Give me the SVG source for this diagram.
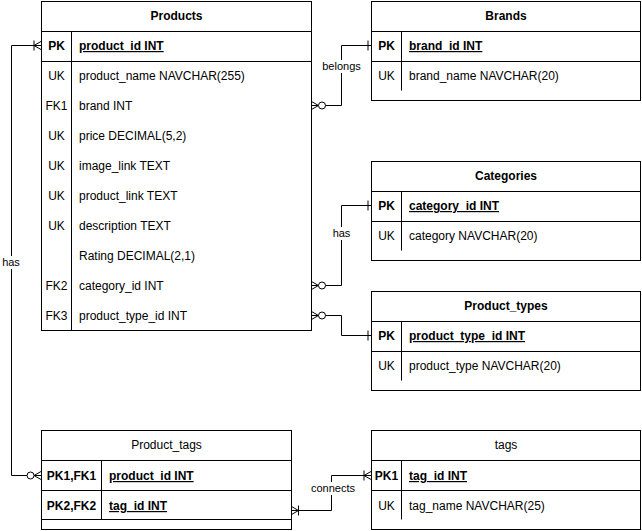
<svg xmlns="http://www.w3.org/2000/svg" width="642" height="531" viewBox="0 0 642 531">
<style>
  .box{fill:#fff;stroke:#000;stroke-width:1}
  .ln{fill:none;stroke:#000;stroke-width:1}
  text{font-family:"Liberation Sans",Arial,Helvetica,sans-serif;font-size:12px;fill:#000}
  .title{font-weight:bold;text-anchor:middle}
  .title2{text-anchor:middle}
  .key{text-anchor:middle}
  .pk{font-weight:bold}
  .pkname{font-weight:bold;text-decoration:underline}
  .lbl{font-size:11px;text-anchor:middle}
  .lblbg{fill:#fff;stroke:none}
</style>
<defs>
  <g id="zeroMany">
    <path class="ln" d="M0,-4 L7,0 L0,4 M0,0 L7,0"/>
    <circle cx="10.5" cy="0" r="3.5" fill="#fff" stroke="#000" stroke-width="1"/>
  </g>
  <g id="oneMany">
    <path class="ln" d="M0,-4 L7,0 L0,4 M0,0 L7,0 M7,-5 L7,5"/>
  </g>
  <g id="one">
    <path class="ln" d="M3,-5 L3,5"/>
  </g>
</defs>

<g id="connectors">
  <path class="ln" d="M325,105.5 H341.5 V45.5 H371"/>
  <use href="#zeroMany" transform="translate(311.5,105.5)"/>
  <use href="#one" transform="translate(371,45.5) scale(-1,1)"/>
  <rect class="lblbg" x="322" y="60" width="39" height="13"/>
  <text class="lbl" x="341.5" y="70">belongs</text>

  <path class="ln" d="M325,285.5 H341.5 V205.5 H371"/>
  <use href="#zeroMany" transform="translate(311.5,285.5)"/>
  <use href="#one" transform="translate(371,205.5) scale(-1,1)"/>
  <rect class="lblbg" x="331" y="227" width="21" height="13"/>
  <text class="lbl" x="341.5" y="237">has</text>

  <path class="ln" d="M325,315.5 H341.5 V335.5 H371"/>
  <use href="#zeroMany" transform="translate(311.5,315.5)"/>
  <use href="#one" transform="translate(371,335.5) scale(-1,1)"/>

  <path class="ln" d="M34,45.5 H11.5 V475.5 H27"/>
  <use href="#oneMany" transform="translate(41,45.5) scale(-1,1)"/>
  <use href="#zeroMany" transform="translate(41,475.5) scale(-1,1)"/>
  <rect class="lblbg" x="1" y="256" width="21" height="13"/>
  <text class="lbl" x="11" y="266">has</text>

  <path class="ln" d="M298,510.5 H331.5 V475.5 H364"/>
  <use href="#oneMany" transform="translate(291.5,510.5)"/>
  <use href="#oneMany" transform="translate(371,475.5) scale(-1,1)"/>
  <rect class="lblbg" x="311" y="482" width="45" height="13"/>
  <text class="lbl" x="333" y="492">connects</text>
</g>

<g id="Products">
  <rect class="box" x="41.5" y="1.5" width="270" height="329"/>
  <path class="ln" d="M41.5,31.5 H311.5 M41.5,61.5 H311.5 M71.5,31.5 V330.5"/>
  <text class="title" x="176.5" y="20">Products</text>
  <text class="key pk" x="56.5" y="50">PK</text>
  <text class="pkname" x="79" y="50">product_id INT</text>
  <text class="key" x="56.5" y="80">UK</text>
  <text x="79" y="80">product_name NAVCHAR(255)</text>
  <text class="key" x="56.5" y="110">FK1</text>
  <text x="79" y="110">brand INT</text>
  <text class="key" x="56.5" y="140">UK</text>
  <text x="79" y="140">price DECIMAL(5,2)</text>
  <text class="key" x="56.5" y="170">UK</text>
  <text x="79" y="170">image_link TEXT</text>
  <text class="key" x="56.5" y="200">UK</text>
  <text x="79" y="200">product_link TEXT</text>
  <text class="key" x="56.5" y="230">UK</text>
  <text x="79" y="230">description TEXT</text>
  <text x="79" y="260">Rating DECIMAL(2,1)</text>
  <text class="key" x="56.5" y="290">FK2</text>
  <text x="79" y="290">category_id INT</text>
  <text class="key" x="56.5" y="320">FK3</text>
  <text x="79" y="320">product_type_id INT</text>
</g>

<g id="Brands">
  <rect class="box" x="371.5" y="1.5" width="269" height="99"/>
  <path class="ln" d="M371.5,31.5 H640.5 M371.5,61.5 H640.5 M401.5,31.5 V90.5"/>
  <text class="title" x="506" y="20">Brands</text>
  <text class="key pk" x="386.5" y="50">PK</text>
  <text class="pkname" x="409" y="50">brand_id INT</text>
  <text class="key" x="386.5" y="80">UK</text>
  <text x="409" y="80">brand_name NAVCHAR(20)</text>
</g>

<g id="Categories">
  <rect class="box" x="371.5" y="161.5" width="269" height="99"/>
  <path class="ln" d="M371.5,191.5 H640.5 M371.5,221.5 H640.5 M401.5,191.5 V250.5"/>
  <text class="title" x="506" y="180">Categories</text>
  <text class="key pk" x="386.5" y="210">PK</text>
  <text class="pkname" x="409" y="210">category_id INT</text>
  <text class="key" x="386.5" y="240">UK</text>
  <text x="409" y="240">category NAVCHAR(20)</text>
</g>

<g id="Product_types">
  <rect class="box" x="371.5" y="291.5" width="269" height="99"/>
  <path class="ln" d="M371.5,321.5 H640.5 M371.5,351.5 H640.5 M401.5,321.5 V380.5"/>
  <text class="title" x="506" y="310">Product_types</text>
  <text class="key pk" x="386.5" y="340">PK</text>
  <text class="pkname" x="409" y="340">product_type_id INT</text>
  <text class="key" x="386.5" y="370">UK</text>
  <text x="409" y="370">product_type NAVCHAR(20)</text>
</g>

<g id="Product_tags">
  <rect class="box" x="41.5" y="430.5" width="250" height="99"/>
  <path class="ln" d="M41.5,460.5 H291.5 M41.5,490.5 H291.5 M41.5,519.5 H291.5 M101.5,460.5 V519.5"/>
  <text class="title2" x="166.5" y="449">Product_tags</text>
  <text class="key pk" x="71.5" y="480">PK1,FK1</text>
  <text class="pkname" x="109" y="480">product_id INT</text>
  <text class="key pk" x="71.5" y="510">PK2,FK2</text>
  <text class="pkname" x="109" y="510">tag_id INT</text>
</g>

<g id="tags">
  <rect class="box" x="371.5" y="430.5" width="269" height="99"/>
  <path class="ln" d="M371.5,460.5 H640.5 M371.5,490.5 H640.5 M401.5,460.5 V519.5"/>
  <text class="title2" x="506" y="449">tags</text>
  <text class="key pk" x="386.5" y="480">PK1</text>
  <text class="pkname" x="409" y="480">tag_id INT</text>
  <text class="key" x="386.5" y="510">UK</text>
  <text x="409" y="510">tag_name NAVCHAR(25)</text>
</g>
</svg>
